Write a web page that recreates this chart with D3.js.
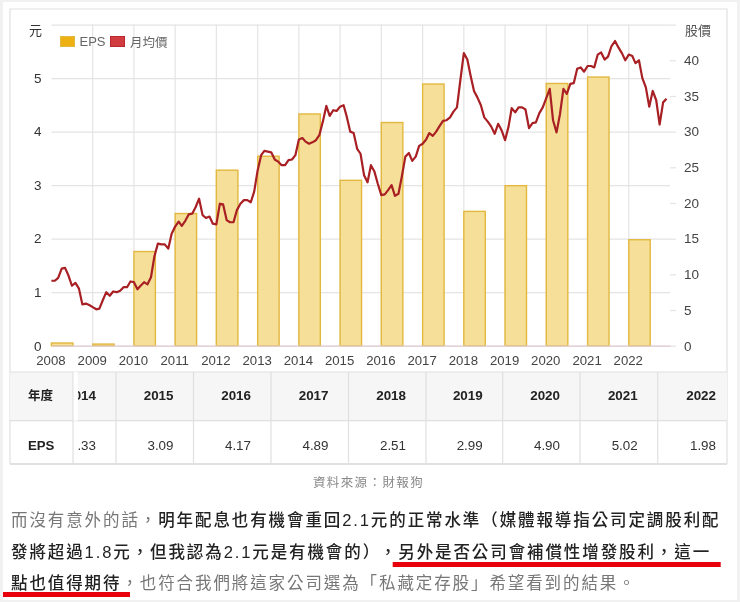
<!DOCTYPE html>
<html>
<head>
<meta charset="utf-8">
<script src="https://cdn.jsdelivr.net/npm/d3@7"></script>
<style>
  html, body { margin: 0; padding: 0; background: #f1f1f1; }
  svg { display: block; filter: blur(0.35px); }
  text { font-family: "Liberation Sans", "Noto Sans CJK TC", sans-serif; }
</style>
</head>
<body>
<div id="container"></div>
<script>
// the chart data
const epsYears = [2008, 2009, 2010, 2011, 2012, 2013, 2014, 2015, 2016, 2017, 2018, 2019, 2020, 2021, 2022];
const epsValues = [0.05, 0.03, 1.76, 2.47, 3.28, 3.54, 4.33, 3.09, 4.17, 4.89, 2.51, 2.99, 4.90, 5.02, 1.98];

// monthly average price, jan 2008 to dec 2022
const priceValues = [
  9.1, 9.1, 9.5, 10.8, 10.9, 9.8, 8.4, 8.8, 8.0, 5.8, 5.9, 5.7,
  5.4, 5.1, 5.2, 6.4, 7.5, 7.0, 7.6, 7.5, 7.7, 8.2, 8.2, 9.0,
  8.9, 7.9, 8.4, 8.9, 8.6, 9.6, 12.5, 14.3, 14.2, 14.2, 13.6, 15.7,
  16.7, 17.4, 16.8, 17.5, 18.4, 18.5, 19.4, 20.6, 18.3, 17.9, 18.1, 17.1,
  17.0, 19.9, 19.8, 17.6, 17.3, 17.3, 19.0, 19.9, 20.4, 20.4, 20.1, 21.6,
  24.6, 26.7, 27.3, 27.2, 27.1, 26.1, 25.8, 25.3, 25.3, 26.0, 26.1, 26.7,
  28.9, 29.1, 28.6, 28.3, 28.5, 28.8, 29.5, 31.4, 33.6, 32.2, 33.0, 32.9,
  33.5, 33.7, 32.1, 30.0, 29.8, 27.6, 26.9, 23.9, 22.9, 25.3, 24.4, 22.7,
  21.1, 21.2, 21.8, 22.5, 21.0, 21.3, 23.7, 26.5, 27.0, 25.9, 26.5, 28.0,
  28.3, 28.9, 29.8, 29.4, 30.0, 30.8, 31.5, 31.6, 32.0, 32.8, 33.4, 37.2,
  41.0, 40.1, 37.9, 35.7, 34.8, 33.7, 32.0, 31.4, 30.7, 29.7, 31.1, 30.2,
  28.8, 30.7, 33.3, 32.7, 33.4, 33.4, 33.1, 30.5, 31.2, 31.3, 32.6, 33.4,
  34.7, 36.0, 31.6, 29.9, 32.4, 36.0, 35.3, 36.7, 36.8, 38.8, 39.0, 38.4,
  39.2, 39.2, 39.0, 40.8, 41.1, 40.1, 40.5, 42.0, 42.7, 41.8, 41.0, 40.0,
  40.8, 40.6, 39.6, 40.0, 37.5, 36.2, 33.5, 35.7, 34.4, 31.0, 34.1, 34.6
];

const epsTicks = [0, 1, 2, 3, 4, 5, 6];
const priceTicks = [0, 5, 10, 15, 20, 25, 30, 35, 40, 45];

const tableYears = ["2014", "2015", "2016", "2017", "2018", "2019", "2020", "2021", "2022"];
const tableEps = ["4.33", "3.09", "4.17", "4.89", "2.51", "2.99", "4.90", "5.02", "1.98"];

const sourceText = "資料來源：財報狗";
const lineOne = [["而沒有意外的話，", false], ["明年配息也有機會重回2.1元的正常水準（媒體報導指公司定調股利配", true]];
const lineTwo = [["發將超過1.8元，但我認為2.1元是有機會的）", true], ["，另外是否公司會補償性增發股利，這一", true]];
const lineThree = [["點也值得期待", true], ["，也符合我們將這家公司選為「私藏定存股」希望看到的結果。", false]];

const svg = d3.select("#container").append("svg")
  .attr("width", 740)
  .attr("height", 602);

// white sheet and the box around chart and table
svg.append("rect").attr("x", 3).attr("y", 2).attr("width", 734).attr("height", 598).attr("fill", "#fff");
svg.append("path").attr("d", "M10,464V9H727V464").attr("fill", "none").attr("stroke", "#e0e0e0").attr("stroke-width", 1.2);

// scales
const x = d3.scaleUtc()
  .domain([new Date(Date.UTC(2008, 0, 1)), new Date(Date.UTC(2023, 0, 1))])
  .range([51.4, 670]);
const yEps = d3.scaleLinear().domain([0, 6]).range([345.7, 24.6]);
const yPrice = d3.scaleLinear().domain([0, 45]).range([345.7, 24.6]);

const yearDate = y => new Date(Date.UTC(y, 0, 1));
const barEnd = y => new Date(Date.UTC(y, 6, 10));

// vertical grid
svg.append("g").selectAll("line")
  .data(epsYears.slice(1))
  .enter()
  .append("line")
  .attr("x1", d => x(yearDate(d)))
  .attr("x2", d => x(yearDate(d)))
  .attr("y1", yEps(6))
  .attr("y2", yEps(0))
  .attr("stroke", "#e4e4e4")
  .attr("stroke-width", 1.2);

// left axis with the horizontal grid
const leftAxis = svg.append("g")
  .attr("transform", "translate(51.4,0)")
  .call(d3.axisLeft(yEps).tickValues(epsTicks).tickSize(-618.6).tickPadding(10)
    .tickFormat(d => d === 6 ? "" : d));
leftAxis.select(".domain").remove();
leftAxis.selectAll("line").attr("stroke", "#e4e4e4").attr("stroke-width", 1.2);
leftAxis.selectAll("text").attr("fill", "#333").style("font-size", "13.5px");

// right axis
const rightAxis = svg.append("g")
  .attr("transform", "translate(670,0)")
  .call(d3.axisRight(yPrice).tickValues(priceTicks).tickSize(6).tickPadding(8)
    .tickFormat(d => d === 45 ? "" : d));
rightAxis.select(".domain").remove();
rightAxis.selectAll("line").attr("stroke", "#e4e4e4").attr("stroke-width", 1.2);
rightAxis.selectAll("text").attr("fill", "#444").style("font-size", "13.5px");

// bars
svg.append("g").selectAll("rect")
  .data(epsValues)
  .enter()
  .append("rect")
  .attr("x", (d, i) => x(yearDate(epsYears[i])))
  .attr("y", d => yEps(d))
  .attr("width", (d, i) => x(barEnd(epsYears[i])) - x(yearDate(epsYears[i])))
  .attr("height", d => yEps(0) - yEps(d))
  .attr("fill", "#f6df98")
  .attr("stroke", "#e2b83f")
  .attr("stroke-width", 1.4);

// bottom axis
const bottomAxis = svg.append("g")
  .attr("transform", "translate(0,345.7)")
  .call(d3.axisBottom(x).tickValues(epsYears.map(yearDate)).tickSize(0).tickPadding(10)
    .tickFormat(d3.utcFormat("%Y")));
bottomAxis.select(".domain").attr("stroke", "#e4cdd5").attr("stroke-width", 1.2);
bottomAxis.selectAll("text").attr("fill", "#444").attr("dx", -1).style("font-size", "13.2px");

// price line
const line = d3.line()
  .x((d, i) => x(new Date(Date.UTC(2008, i, 1))))
  .y(d => yPrice(d));
svg.append("path")
  .datum(priceValues)
  .attr("d", line)
  .attr("fill", "none")
  .attr("stroke", "#a81f24")
  .attr("stroke-width", 2.2)
  .attr("stroke-linejoin", "round");

// axis titles
svg.append("text").attr("x", 29).attr("y", 35).attr("fill", "#333").style("font-size", "13px").text("元");
svg.append("text").attr("x", 685).attr("y", 35).attr("fill", "#555").style("font-size", "13px").text("股價");

// legend
svg.append("rect").attr("x", 60.5).attr("y", 36.5).attr("width", 14).attr("height", 10).attr("fill", "#edb211").attr("stroke", "#e2b83f");
svg.append("text").attr("x", 79.5).attr("y", 46).attr("fill", "#666").style("font-size", "13px").text("EPS");
svg.append("rect").attr("x", 110.5).attr("y", 36.5).attr("width", 14).attr("height", 10).attr("fill", "#d03c40").attr("stroke", "#b8282c");
svg.append("text").attr("x", 130).attr("y", 47).attr("fill", "#666").style("font-size", "12.5px").text("月均價");

// table
const colRight = [116, 193.5, 271, 348.5, 426, 502.7, 580, 657.7, 727];
const rowLines = [372, 420.7, 464];

svg.append("rect").attr("x", 10).attr("y", rowLines[0]).attr("width", 717).attr("height", rowLines[1] - rowLines[0]).attr("fill", "#f6f6f6");
svg.append("g").selectAll("line")
  .data(rowLines)
  .enter()
  .append("line")
  .attr("x1", 10).attr("x2", 727)
  .attr("y1", d => d).attr("y2", d => d)
  .attr("stroke", "#e0e0e0").attr("stroke-width", (d, i) => i === 2 ? 2 : 1.2);
svg.append("g").selectAll("line")
  .data([73].concat(colRight.slice(0, -1)))
  .enter()
  .append("line")
  .attr("x1", d => d).attr("x2", d => d)
  .attr("y1", rowLines[0]).attr("y2", rowLines[2])
  .attr("stroke", "#e0e0e0").attr("stroke-width", 1.2);

svg.append("rect").attr("x", 73.6).attr("y", rowLines[0]).attr("width", 4).attr("height", rowLines[1] - rowLines[0]).attr("fill", "#fff");

svg.append("clipPath").attr("id", "cols").append("rect").attr("x", 78).attr("y", 365).attr("width", 655).attr("height", 105);

svg.append("text").attr("x", 28).attr("y", 400).attr("fill", "#222").attr("font-weight", "bold").style("font-size", "12.5px").text("年度");
svg.append("text").attr("x", 28).attr("y", 450).attr("fill", "#222").attr("font-weight", "bold").style("font-size", "13.2px").text("EPS");

const tableText = svg.append("g").attr("clip-path", "url(#cols)");
tableText.selectAll(".year")
  .data(tableYears)
  .enter()
  .append("text")
  .attr("class", "year")
  .attr("x", (d, i) => i === 8 ? 716 : colRight[i] - 20)
  .attr("y", 400)
  .attr("text-anchor", "end")
  .attr("fill", "#222")
  .attr("font-weight", "bold")
  .style("font-size", "13.4px")
  .text(d => d);
tableText.selectAll(".eps")
  .data(tableEps)
  .enter()
  .append("text")
  .attr("class", "eps")
  .attr("x", (d, i) => i === 8 ? 716 : colRight[i] - 20)
  .attr("y", 450)
  .attr("text-anchor", "end")
  .attr("fill", "#333")
  .style("font-size", "13.4px")
  .text(d => d);

// source note
svg.append("text")
  .attr("x", 368.5).attr("y", 487)
  .attr("text-anchor", "middle")
  .attr("fill", "#888")
  .style("font-size", "12.5px")
  .style("letter-spacing", "1.4px")
  .text(sourceText);

// paragraph below the chart, gap is extra room before the last piece
function writeLine(segments, yPos, gap) {
  const t = svg.append("text")
    .attr("x", 11)
    .attr("y", yPos)
    .style("font-size", "16.5px")
    .style("letter-spacing", "1.9px");
  segments.forEach((s, i) => {
    t.append("tspan")
      .attr("fill", s[1] ? "#222" : "#777")
      .attr("font-weight", s[1] ? 500 : 400)
      .attr("dx", i === segments.length - 1 ? gap : 0)
      .text(s[0]);
  });
}
writeLine(lineOne, 526, 0);
writeLine(lineTwo, 557.5, 7);
writeLine(lineThree, 589, 0);

// red marker lines
svg.append("rect").attr("x", 392.7).attr("y", 562).attr("width", 328).attr("height", 5).attr("fill", "#e8000b");
svg.append("rect").attr("x", 3).attr("y", 592).attr("width", 127).attr("height", 5).attr("fill", "#e8000b");
</script>
</body>
</html>
